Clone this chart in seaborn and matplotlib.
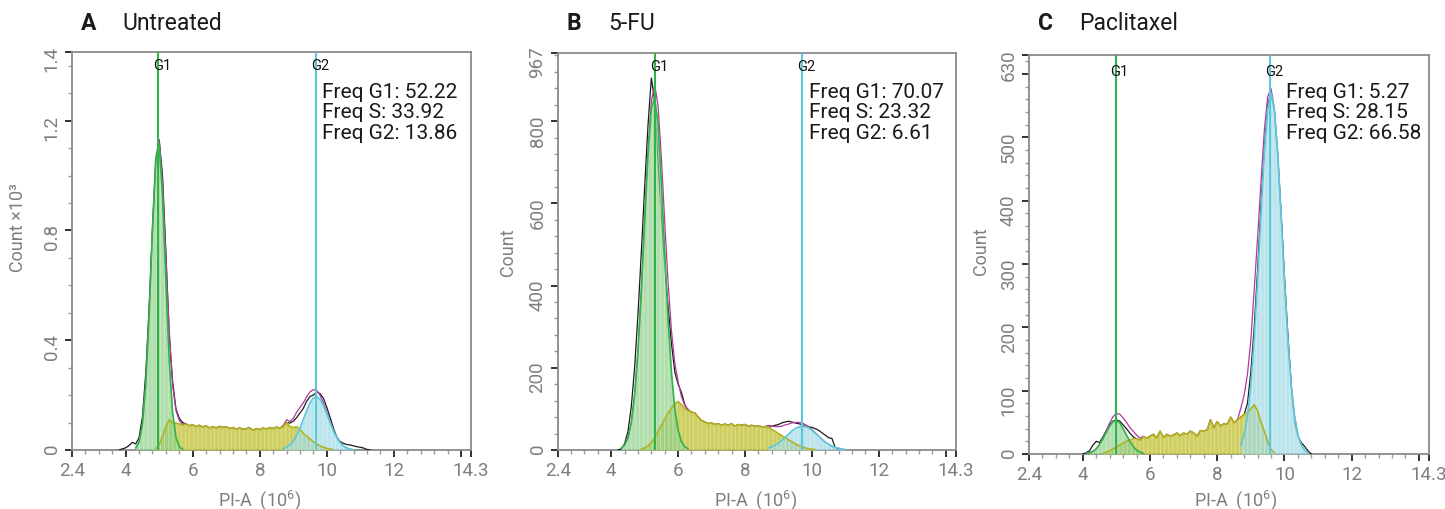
import numpy as np
import matplotlib
matplotlib.use("Agg")
import matplotlib.pyplot as plt
import matplotlib.transforms as mtransforms
from matplotlib.ticker import FixedLocator
import seaborn as sns

sns.set_theme(style="white")
plt.rcParams['font.family'] = ['Roboto', 'DejaVu Sans']
plt.rcParams['mathtext.fontset'] = 'custom'
plt.rcParams['mathtext.rm'] = 'Roboto'
plt.rcParams['mathtext.it'] = 'Roboto:italic'
plt.rcParams['hatch.linewidth'] = 0.6

# ---------------- data (PI-A in 10^6, step 0.1) ----------------
STEP = 0.1
panel_letters = ["A", "B", "C"]
panel_names = ["Untreated", "5-FU", "Paclitaxel"]
freq_g1 = ["52.22", "70.07", "5.27"]
freq_s = ["33.92", "23.32", "28.15"]
freq_g2 = ["13.86", "6.61", "66.58"]
g1_pos = [4.97, 5.31, 4.98]
g2_pos = [9.68, 9.70, 9.57]

# Panel A (counts x10^3)
A_g1_start = 4.3
A_g1 = [0.007, 0.028, 0.092, 0.24, 0.49, 0.81, 1.06, 1.11, 0.925, 0.615, 0.326,
        0.137, 0.046, 0.012, 0.003]
A_s_start = 4.9
A_s = [0.005, 0.02, 0.05, 0.085, 0.11, 0.10, 0.098, 0.095, 0.09, 0.095, 0.088,
       0.092, 0.085, 0.09, 0.083, 0.088, 0.08, 0.085, 0.08, 0.086, 0.082, 0.084,
       0.078, 0.082, 0.076, 0.08, 0.075, 0.078, 0.08, 0.072, 0.078, 0.074, 0.08,
       0.076, 0.082, 0.078, 0.083, 0.08, 0.085, 0.10, 0.085, 0.082, 0.085, 0.075,
       0.06, 0.05, 0.04, 0.03, 0.022, 0.015, 0.01, 0.006, 0.003, 0.001]
A_g2_start = 8.7
A_g2 = [0.005, 0.01, 0.019, 0.033, 0.053, 0.080, 0.112, 0.144, 0.172, 0.190,
        0.195, 0.184, 0.162, 0.131, 0.099, 0.069, 0.044, 0.026, 0.014, 0.007,
        0.003, 0.001]
A_raw_start = 3.8
A_raw = [0.0, 0.004, 0.008, 0.016, 0.028, 0.022, 0.045, 0.12, 0.28, 0.52, 0.80,
         1.04, 1.13, 1.0, 0.72, 0.42, 0.25, 0.15, 0.115, 0.10, 0.095,
         0.088, 0.092, 0.085, 0.09, 0.083, 0.088, 0.08, 0.085, 0.08, 0.086,
         0.082, 0.084, 0.078, 0.082, 0.076, 0.08, 0.075, 0.078, 0.08, 0.072,
         0.078, 0.074, 0.08, 0.076, 0.082, 0.078, 0.083, 0.08, 0.085,
         0.10, 0.098, 0.105, 0.118, 0.135, 0.152, 0.178, 0.195, 0.20, 0.212,
         0.205, 0.188, 0.155, 0.118, 0.078, 0.046, 0.03, 0.024, 0.02, 0.018,
         0.015, 0.012, 0.01, 0.007, 0.002, 0.0]

# Panel B (counts)
B_g1_start = 4.3
B_g1 = [4, 12, 29, 66, 133, 239, 386, 556, 718, 830, 858, 794, 650, 480, 318,
        190, 100, 48, 20, 8, 3]
B_s_start = 4.9
B_s = [2, 5, 10, 18, 30, 45, 60, 75, 90, 102, 112, 118, 110, 100, 96, 92, 90, 80,
       72, 68, 64, 66, 62, 64, 60, 63, 60, 64, 58, 62, 60, 62, 58, 60, 57, 59, 56,
       57, 55, 50, 45, 40, 35, 30, 25, 20, 15, 11, 8, 5, 3, 2, 1]
B_g2_start = 8.7
B_g2 = [5, 8, 12, 17, 23, 31, 38, 46, 52, 56, 58, 57, 54, 48, 41, 34, 26, 19, 14,
        9, 6, 4, 2, 1]
B_raw_start = 4.2
B_raw = [0, 3, 15, 45, 105, 200, 330, 480, 640, 790, 905, 850, 700, 570, 450,
         350, 260, 190, 160, 140, 110,
         96, 92, 90, 80, 72, 68, 64, 66, 62, 64, 60, 63, 60, 64, 58, 62, 60, 62,
         58, 60, 57, 59, 56, 57, 55,
         58, 60, 62, 66, 68, 70, 68, 66, 64, 62, 58, 56, 55, 52, 48, 42, 36, 30,
         28, 5, 0]

# Panel C (counts)
C_g1_start = 4.1
C_g1 = [1, 2, 4, 8, 15, 24, 34, 44, 51, 53, 49, 40, 30, 20, 12, 6, 3, 1]
C_s_start = 4.6
C_s = [1, 3, 5, 8, 11, 14, 17, 20, 22, 24, 24, 22, 27, 25, 28, 31, 25, 36, 26, 31,
       28, 30, 33, 29, 33, 31, 36, 33, 28, 37, 36, 38, 54, 41, 51, 44, 48, 47, 58,
       49, 54, 58, 63, 66, 71, 78, 68, 51, 36, 20, 7, 2]
C_g2_start = 8.7
C_g2 = [14, 30, 60, 109, 181, 273, 377, 474, 544, 570, 544, 474, 377, 273, 181,
        109, 60, 30, 14, 6, 2]
C_raw_start = 4.0
C_raw = [0, 2, 5, 14, 20, 18, 27, 37, 46, 52, 54, 52, 46, 40, 33, 27, 24, 22,
         27, 25, 28, 31, 25, 36, 26, 31, 28, 30, 33, 29, 33, 31, 36, 33, 28, 37,
         36, 38, 54, 41, 51, 44, 48, 47, 58, 49, 54,
         58, 62, 80, 130, 200, 290, 390, 480, 550, 572, 540, 470, 380, 280, 190,
         110, 50, 28, 18, 12, 5, 0]

# y-axis settings per panel
y_max = [1.45, 967, 630]
y_major = [[0, 0.4, 0.8, 1.2, 1.45], [0, 200, 400, 600, 800, 967],
           [0, 100, 200, 300, 400, 500, 600, 630]]
y_major_labels = [["0", "0.4", "0.8", "1.2", "1.4"],
                  ["0", "200", "400", "600", "800", "967"],
                  ["0", "100", "200", "300", "400", "500", "", "630"]]
y_minor_step = [0.1, 40, 20]
y_labels = ["Count ×10³", "Count", "Count"]
x_major = [2.4, 4, 6, 8, 10, 12, 14, 14.3]
x_major_labels = ["2.4", "4", "6", "8", "10", "12", "", "14.3"]

# ---------------- layout (pixels in 1445x510 figure) ----------------
W, H = 1445, 510
axes_px = [(72, 53, 471, 451), (557.7, 53.5, 955.7, 451), (1029, 56, 1429, 455)]
ylabel_pos = [(-0.113, 0.56), (-0.102, 0.50), (-0.098, 0.51)]
xlabel_pos = [(0.469, -0.093), (0.498, -0.093), (0.517, -0.083)]
freq_x_px = [322, 809, 1286]

C_G1 = "#31b34b"
C_G2 = "#5cc8da"
C_S_FILL = "#c4c43a"
C_S_EDGE = "#b3b321"
C_G1_FILL = "#8fd08a"
C_G2_FILL = "#9fd9e6"
C_FIT = "#b03a9c"
C_RAW = "#1b1b1b"
GRAY = "#8a8a8a"
TXT = "#7f7f7f"


def series(start, vals):
    x = np.round(start + STEP * np.arange(len(vals)), 2)
    return x, np.asarray(vals, dtype=float)


def on_grid(grid, xs, ys):
    d = dict(zip(np.round(xs, 2), ys))
    return np.array([d.get(round(g, 2), 0.0) for g in grid])


fig = plt.figure(figsize=(W / 100, H / 100), dpi=100)

panels = [
    (series(A_g1_start, A_g1), series(A_s_start, A_s), series(A_g2_start, A_g2), series(A_raw_start, A_raw)),
    (series(B_g1_start, B_g1), series(B_s_start, B_s), series(B_g2_start, B_g2), series(B_raw_start, B_raw)),
    (series(C_g1_start, C_g1), series(C_s_start, C_s), series(C_g2_start, C_g2), series(C_raw_start, C_raw)),
]

for i, (g1, s, g2, raw) in enumerate(panels):
    l, t, r, b = axes_px[i]
    ax = fig.add_axes([l / W, 1 - b / H, (r - l) / W, (b - t) / H])

    # model fit = sum of components
    grid = np.round(np.arange(min(g1[0][0], s[0][0]), max(s[0][-1], g2[0][-1]) + 0.001, STEP), 2)
    fit = on_grid(grid, *g1) + on_grid(grid, *s) + on_grid(grid, *g2)

    sns.lineplot(x=raw[0], y=raw[1], color=C_RAW, lw=0.9, ax=ax, estimator=None, sort=False, zorder=3)
    sns.lineplot(x=grid, y=fit, color=C_FIT, lw=0.9, ax=ax, estimator=None, sort=False, zorder=3)

    for (xs, ys), fc, ec, a in [(s, C_S_FILL, C_S_EDGE, 0.8), (g1, C_G1_FILL, C_G1, 0.7), (g2, C_G2_FILL, C_G2, 0.7)]:
        ax.fill_between(xs, 0, ys, facecolor=fc, alpha=a, lw=0, zorder=4)
        ax.fill_between(xs, 0, ys, facecolor="none", edgecolor=(1, 1, 1, 0.35), hatch="||||", lw=0, zorder=4)
        ax.plot(xs, ys, color=ec, lw=1.2, zorder=5)

    ax.axvline(g1_pos[i], color=C_G1, lw=1.5, zorder=6)
    ax.axvline(g2_pos[i], color=C_G2, lw=1.5, zorder=6)

    trans = mtransforms.blended_transform_factory(ax.transData, ax.transAxes)
    for pos, name in [(g1_pos[i], "G1"), (g2_pos[i], "G2")]:
        ax.text(pos, 1 - (66.5 - 53) / (b - t) - (0.006 if i == 2 else 0), name,
                transform=mtransforms.offset_copy(trans, fig=fig, x=4, y=0, units="dots"),
                ha="center", va="center", fontsize=10.5, color="#111111", zorder=7)

    ax.set_xlim(2.4, 14.3)
    ax.set_ylim(0, y_max[i])
    ax.xaxis.set_major_locator(FixedLocator(x_major))
    ax.set_xticklabels(x_major_labels)
    ax.xaxis.set_minor_locator(FixedLocator(np.round(np.arange(2.4, 14.3, 0.4), 2)))
    ax.yaxis.set_major_locator(FixedLocator(y_major[i]))
    ax.set_yticklabels(y_major_labels[i])
    ax.yaxis.set_minor_locator(FixedLocator(np.arange(0, y_max[i], y_minor_step[i])))

    ax.tick_params(which="both", bottom=True, left=True, top=False, right=False, direction="out")
    ax.tick_params(which="major", length=5, width=1.3, color="#222222", labelcolor=TXT, labelsize=13.5, pad=3)
    ax.tick_params(which="minor", length=3, width=1.0, color="#9a9a9a")
    ax.tick_params(axis="y", labelrotation=90)
    for sp in ax.spines.values():
        sp.set_visible(True)
        sp.set_color(GRAY)
        sp.set_linewidth(1.3)

    ax.set_ylabel(y_labels[i], color=TXT, fontsize=13)
    ax.yaxis.set_label_coords(*ylabel_pos[i])
    ax.set_xlabel(r"PI-A  (10$^{6}$)", color=TXT, fontsize=13)
    ax.xaxis.set_label_coords(*xlabel_pos[i])
    ax.grid(False)

    # titles
    fig.text((l + 9) / W, 1 - 30 / H, panel_letters[i], fontsize=16.5, fontweight="bold", color="#1a1a1a")
    fig.text((l + 50.5) / W, 1 - 30 / H, panel_names[i], fontsize=16.5, color="#1a1a1a")

    # frequencies
    fx = freq_x_px[i] / W
    for k, txt in enumerate([f"Freq G1: {freq_g1[i]}", f"Freq S: {freq_s[i]}", f"Freq G2: {freq_g2[i]}"]):
        fig.text(fx, 1 - (98 + 20.5 * k) / H, txt, fontsize=15, color="#1a1a1a", va="baseline", zorder=8)

fig.savefig("out.png", dpi=100)
